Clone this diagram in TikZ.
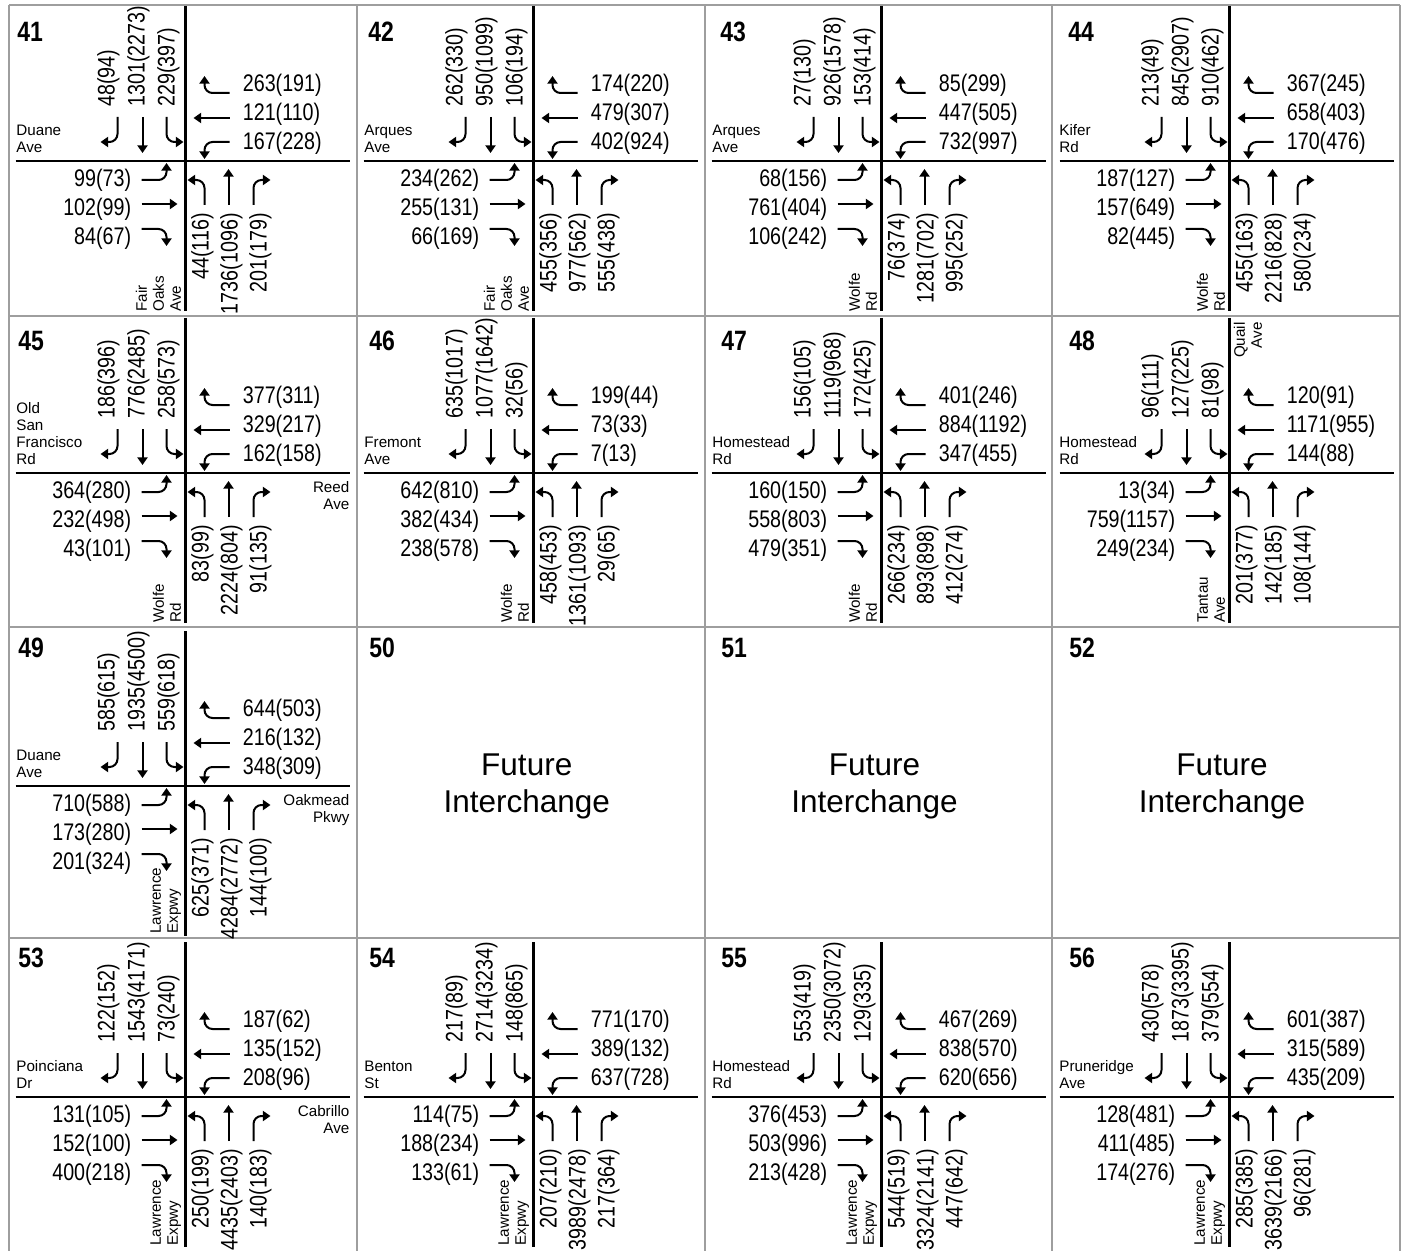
\documentclass[tikz,border=0pt]{standalone}
\usepackage{fontspec}
\setmainfont{Liberation Sans}
\newfontfamily\narrowfont{Liberation Sans}[FakeStretch=0.82]
\usepackage{tikz}
\usetikzlibrary{arrows.meta}
\newcommand{\volfont}{\narrowfont\fontsize{12}{12}\selectfont}
\newcommand{\streetfont}{\fontsize{7.6}{8.5}\selectfont}
\newcommand{\numfont}{\narrowfont\bfseries\fontsize{14}{14}\selectfont}
\newcommand{\futurefont}{\fontsize{15.75}{18.5}\selectfont}

% one intersection: id, centre x, centre y, then SB, WB, NB, EB volumes
\newcommand{\junction}[7]{%
  \begin{scope}[shift={(#2,#3)}]
    \draw[road] (-170,0) -- (164,0);
    \draw[road] (0,-155) -- (0,150);
    \pic {approach};
    \pic[rotate=-90] {approach};
    \pic[rotate=180] {approach};
    \pic[rotate=90] {approach};
    \foreach \v [count=\i] in {#4}
      \node[volume, rotate=90, anchor=west] (j#1-sb\i) at ({-107+30*\i},-54) {\v};
    \foreach \v [count=\i] in {#5}
      \node[volume, anchor=west] (j#1-wb\i) at (57,{-105+29*\i}) {\v};
    \foreach \v [count=\i] in {#6}
      \node[volume, rotate=90, anchor=east] (j#1-nb\i) at ({-12+29*\i},52) {\v};
    \foreach \v [count=\i] in {#7}
      \node[volume, anchor=east] (j#1-eb\i) at (-54,{-10+29*\i}) {\v};
  \end{scope}}

\begin{document}
\begin{tikzpicture}[x=0.5pt,y=-0.5pt,
    gridline/.style={draw=black!38, line width=1pt},
    road/.style={line width=1.25pt},
    turnarrow/.style={line width=1pt, rounded corners=4pt, -{Triangle[length=3.8pt,width=5pt]}},
    volume/.style={font=\volfont, inner sep=0pt},
    streetname/.style={font=\streetfont, inner sep=0pt},
    cellno/.style={font=\numfont, inner sep=0pt, anchor=north west},
    future/.style={font=\futurefont, align=center, inner sep=0pt},
    approach/.pic={
      \draw[turnarrow] (-68,-44) |- (-85,-19);
      \draw[turnarrow] (-43,-44) -- (-43,-8);
      \draw[turnarrow] (-19,-44) |- (-2,-19);
    }
]
\useasboundingbox (0,0) rectangle (1406,1251);

% cell grid
\foreach \gx in {9,356.75,704.5,1052.25,1400}
  \draw[gridline] (\gx,5) -- (\gx,1251);
\foreach \gy in {5,316.5,627,938}
  \draw[gridline] (9,\gy) -- (1400,\gy);

% cell numbers
\node[cellno] (n41) at (17,22) {41};
\node[cellno] (n42) at (368,22) {42};
\node[cellno] (n43) at (720,22) {43};
\node[cellno] (n44) at (1068,22) {44};
\node[cellno] (n45) at (18,331) {45};
\node[cellno] (n46) at (369,331) {46};
\node[cellno] (n47) at (721,331) {47};
\node[cellno] (n48) at (1069,331) {48};
\node[cellno] (n49) at (18,638) {49};
\node[cellno] (n50) at (369,638) {50};
\node[cellno] (n51) at (721,638) {51};
\node[cellno] (n52) at (1069,638) {52};
\node[cellno] (n53) at (18,948) {53};
\node[cellno] (n54) at (369,948) {54};
\node[cellno] (n55) at (721,948) {55};
\node[cellno] (n56) at (1069,948) {56};

% row 1
\junction{41}{185.5}{161}{48(94),1301(2273),229(397)}{263(191),121(110),167(228)}{44(116),1736(1096),201(179)}{99(73),102(99),84(67)}
\junction{42}{533.5}{161}{262(330),950(1099),106(194)}{174(220),479(307),402(924)}{455(356),977(562),555(438)}{234(262),255(131),66(169)}
\junction{43}{881.5}{161}{27(130),926(1578),153(414)}{85(299),447(505),732(997)}{76(374),1281(702),995(252)}{68(156),761(404),106(242)}
\junction{44}{1229.5}{161}{213(49),845(2907),910(462)}{367(245),658(403),170(476)}{455(163),2216(828),580(234)}{187(127),157(649),82(445)}

% row 2
\junction{45}{185.5}{473}{186(396),776(2485),258(573)}{377(311),329(217),162(158)}{83(99),2224(804),91(135)}{364(280),232(498),43(101)}
\junction{46}{533.5}{473}{635(1017),1077(1642),32(56)}{199(44),73(33),7(13)}{458(453),1361(1093),29(65)}{642(810),382(434),238(578)}
\junction{47}{881.5}{473}{156(105),1119(968),172(425)}{401(246),884(1192),347(455)}{266(234),893(898),412(274)}{160(150),558(803),479(351)}
\junction{48}{1229.5}{473}{96(111),127(225),81(98)}{120(91),1171(955),144(88)}{201(377),142(185),108(144)}{13(34),759(1157),249(234)}

% row 3
\junction{49}{185.5}{786}{585(615),1935(4500),559(618)}{644(503),216(132),348(309)}{625(371),4284(2772),144(100)}{710(588),173(280),201(324)}
\node[future] (f50) at (526.75,786) {Future\\Interchange};
\node[future] (f51) at (874.5,786) {Future\\Interchange};
\node[future] (f52) at (1222,786) {Future\\Interchange};

% row 4
\junction{53}{185.5}{1097}{122(152),1543(4171),73(240)}{187(62),135(152),208(96)}{250(199),4435(2403),140(183)}{131(105),152(100),400(218)}
\junction{54}{533.5}{1097}{217(89),2714(3234),148(865)}{771(170),389(132),637(728)}{207(210),3989(2478),217(364)}{114(75),188(234),133(61)}
\junction{55}{881.5}{1097}{553(419),2350(3072),129(335)}{467(269),838(570),620(656)}{544(519),3324(2141),447(642)}{376(453),503(996),213(428)}
\junction{56}{1229.5}{1097}{430(578),1873(3395),379(554)}{601(387),315(589),435(209)}{285(385),3639(2166),96(281)}{128(481),411(485),174(276)}

% cross streets, left of each junction
\node[streetname, align=left, anchor=south west] (s41) at (16,153) {Duane\\Ave};
\node[streetname, align=left, anchor=south west] (s42) at (364,153) {Arques\\Ave};
\node[streetname, align=left, anchor=south west] (s43) at (712,153) {Arques\\Ave};
\node[streetname, align=left, anchor=south west] (s44) at (1059,153) {Kifer\\Rd};
\node[streetname, align=left, anchor=south west] (s45) at (16,465) {Old\\San\\Francisco\\Rd};
\node[streetname, align=left, anchor=south west] (s46) at (364,465) {Fremont\\Ave};
\node[streetname, align=left, anchor=south west] (s47) at (712,465) {Homestead\\Rd};
\node[streetname, align=left, anchor=south west] (s48) at (1059,465) {Homestead\\Rd};
\node[streetname, align=left, anchor=south west] (s49) at (16,778) {Duane\\Ave};
\node[streetname, align=left, anchor=south west] (s53) at (16,1089) {Poinciana\\Dr};
\node[streetname, align=left, anchor=south west] (s54) at (364,1089) {Benton\\St};
\node[streetname, align=left, anchor=south west] (s55) at (712,1089) {Homestead\\Rd};
\node[streetname, align=left, anchor=south west] (s56) at (1059,1089) {Pruneridge\\Ave};

% main streets, below each junction
\node[streetname, rotate=90, align=left, anchor=south west] (m41) at (181.5,312) {Fair\\Oaks\\Ave};
\node[streetname, rotate=90, align=left, anchor=south west] (m42) at (529.5,312) {Fair\\Oaks\\Ave};
\node[streetname, rotate=90, align=left, anchor=south west] (m43) at (877.5,312) {Wolfe\\Rd};
\node[streetname, rotate=90, align=left, anchor=south west] (m44) at (1225.5,312) {Wolfe\\Rd};
\node[streetname, rotate=90, align=left, anchor=south west] (m45) at (181.5,623) {Wolfe\\Rd};
\node[streetname, rotate=90, align=left, anchor=south west] (m46) at (529.5,623) {Wolfe\\Rd};
\node[streetname, rotate=90, align=left, anchor=south west] (m47) at (877.5,623) {Wolfe\\Rd};
\node[streetname, rotate=90, align=left, anchor=south west] (m48) at (1225.5,623) {Tantau\\Ave};
\node[streetname, rotate=90, align=left, anchor=south west] (m49) at (181.5,934) {Lawrence\\Expwy};
\node[streetname, rotate=90, align=left, anchor=south west] (m53) at (181.5,1246) {Lawrence\\Expwy};
\node[streetname, rotate=90, align=left, anchor=south west] (m54) at (529.5,1246) {Lawrence\\Expwy};
\node[streetname, rotate=90, align=left, anchor=south west] (m55) at (877.5,1246) {Lawrence\\Expwy};
\node[streetname, rotate=90, align=left, anchor=south west] (m56) at (1225.5,1246) {Lawrence\\Expwy};

% streets on the far side
\node[streetname, align=right, anchor=north east] (r45) at (349.75,481) {Reed\\Ave};
\node[streetname, align=right, anchor=north east] (r49) at (349.75,794) {Oakmead\\Pkwy};
\node[streetname, align=right, anchor=north east] (r53) at (349.75,1105) {Cabrillo\\Ave};
\node[streetname, rotate=90, align=right, anchor=north east] (q48) at (1233.5,322) {Quail\\Ave};
\end{tikzpicture}
\end{document}
